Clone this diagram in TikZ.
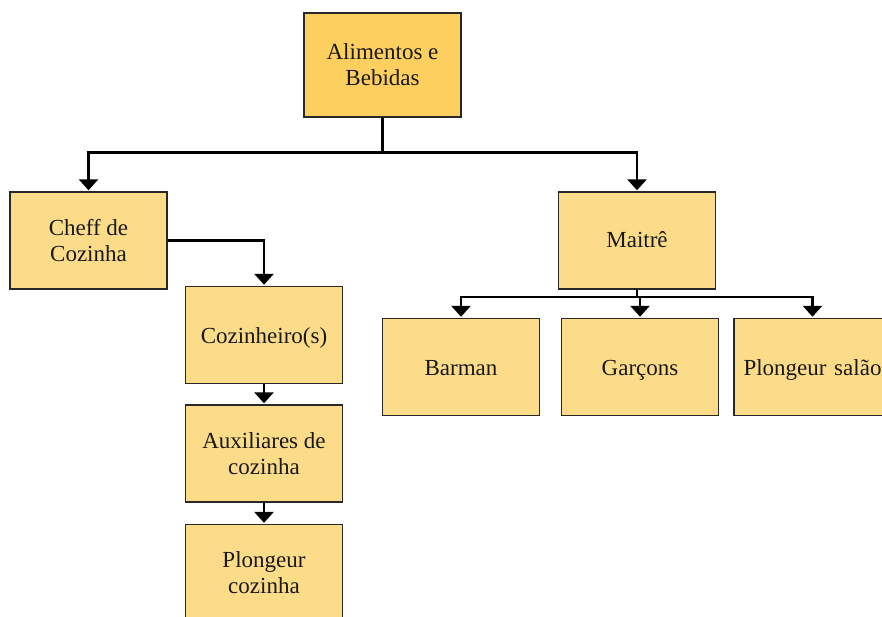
\documentclass[tikz,border=0pt]{standalone}
\usepackage{fontspec}
\setmainfont{Liberation Serif}
\usetikzlibrary{arrows.meta}
\definecolor{headfill}{RGB}{253,207,94}
\definecolor{boxfill}{RGB}{252,220,137}
\definecolor{boxline}{RGB}{40,40,40}
\tikzset{
  orgbox/.style={draw=boxline, line width=1.4pt, minimum width=157pt, minimum height=97pt,
    inner sep=0pt, align=center, font=\fontsize{23}{26}\selectfont, text=black!90},
  headbox/.style={orgbox, fill=headfill, minimum height=104pt},
  unitbox/.style={orgbox, fill=boxfill},
  oneline/.style={text height=16pt, text depth=0pt},
  link/.style={line width=2.9pt, black},
  arrowlink/.style={link, -{Triangle[width=19pt,length=11pt]}, shorten >=1pt}
}
\begin{document}
\begin{tikzpicture}[x=1pt,y=-1pt]
\useasboundingbox (0,0) rectangle (882,617);
\clip (0,0) rectangle (882,617);

% boxes
\node[headbox] (ab) at (382.5,65) {Alimentos e\\Bebidas};
\node[unitbox] (chef) at (88.5,240.5) {Cheff de\\Cozinha};
\node[unitbox, oneline, text height=14pt] (mait) at (637,240.5) {Maitrê};
\node[unitbox, oneline] (coz) at (264,335) {Cozinheiro(s)};
\node[unitbox] (aux) at (264,453.5) {Auxiliares de\\cozinha};
\node[unitbox] (plc) at (264,573) {Plongeur\\cozinha};
\node[unitbox, oneline] (bar) at (461,367) {Barman};
\node[unitbox, oneline] (gar) at (640,367) {Garçons};
\node[unitbox, oneline, text width=157pt] (pls) at (812.5,367) {Plongeur salão};

% junctions
\coordinate (j1) at (382.5,152.5);
\coordinate (j2) at (637,297);

% top level
\draw[link] (ab.south) -- (j1);
\draw[arrowlink] (j1) -| (chef.north);
\draw[arrowlink] (j1) -| (mait.north);

% kitchen chain
\draw[arrowlink] (chef.east) -| (coz.north);
\draw[arrowlink] (coz.south) -- (aux.north);
\draw[arrowlink] (aux.south) -- (plc.north);

% dining room
\draw[link] (mait.south) -- (j2);
\draw[arrowlink] (j2) -| (bar.north);
\draw[arrowlink] (j2) -| (gar.north);
\draw[arrowlink] (j2) -| (pls.north);
\end{tikzpicture}
\end{document}
